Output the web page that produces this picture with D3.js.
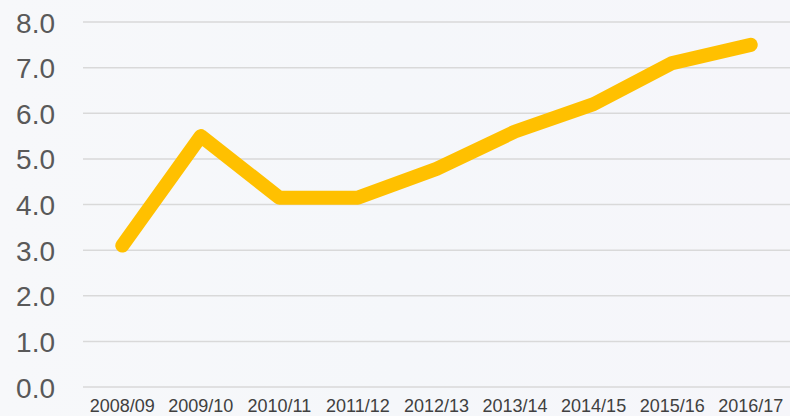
<!DOCTYPE html>
<html>
<head>
<meta charset="utf-8">
<script src="https://cdn.jsdelivr.net/npm/d3@7"></script>
<style>
html,body{margin:0;padding:0;background:#f6f7fa;}
svg{display:block;}
</style>
</head>
<body>
<svg id="chart" width="790" height="416"></svg>
<script>
const categories = ["2008/09","2009/10","2010/11","2011/12","2012/13","2013/14","2014/15","2015/16","2016/17"];
const values = [3.1, 5.5, 4.15, 4.15, 4.78, 5.6, 6.2, 7.1, 7.5];
const yTicks = [0,1,2,3,4,5,6,7,8];

const W = 790, H = 416;
const m = {left: 83, right: 0, top: 22, bottom: 29};
const svg = d3.select("#chart");

const defs = svg.append("defs");
const g1 = defs.append("linearGradient").attr("id","bg").attr("x1","0").attr("y1","0").attr("x2","1").attr("y2","0");
g1.append("stop").attr("offset","0%").attr("stop-color","#f7f8fa");
g1.append("stop").attr("offset","50%").attr("stop-color","#f5f7fa");
g1.append("stop").attr("offset","100%").attr("stop-color","#f6f6fa");
svg.append("rect").attr("width",W).attr("height",H).attr("fill","url(#bg)");

const x = d3.scaleBand().domain(categories).range([m.left, W - m.right]).padding(0);
const y = d3.scaleLinear().domain([0, 8]).range([H - m.bottom, m.top]);

// gridlines
svg.append("g").selectAll("line").data(yTicks).join("line")
  .attr("x1", m.left).attr("x2", W)
  .attr("y1", d => y(d)).attr("y2", d => y(d))
  .attr("stroke", "#d9d9d9").attr("stroke-width", 1.5);

// y axis labels
const yAxis = d3.axisLeft(y).tickValues(yTicks).tickFormat(d3.format(".1f")).tickSize(0).tickPadding(0);
const ya = svg.append("g").attr("transform", `translate(55,0)`).call(yAxis);
ya.select(".domain").remove();
ya.selectAll("text").attr("font-family","Liberation Sans, Arial, sans-serif").attr("font-size", 28).attr("fill","#595959").attr("dy","0.36em");

// x axis labels
const xAxis = d3.axisBottom(x).tickSize(0).tickPadding(0);
const xa = svg.append("g").attr("transform", `translate(0,${H - m.bottom})`).call(xAxis);
xa.select(".domain").remove();
xa.selectAll("text").attr("font-family","Liberation Sans, Arial, sans-serif").attr("font-size", 18).attr("fill","#404040").attr("y", 24.5).attr("dy", 0);

// line
const line = d3.line().x((d,i) => x(categories[i]) + x.bandwidth()/2).y(d => y(d));
svg.append("path").datum(values)
  .attr("d", line)
  .attr("fill","none")
  .attr("stroke","#FFC000")
  .attr("stroke-width", 14)
  .attr("stroke-linecap","round")
  .attr("stroke-linejoin","round");
</script>
</body>
</html>
